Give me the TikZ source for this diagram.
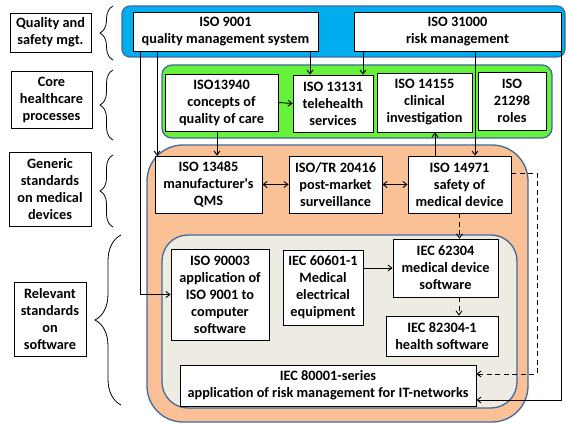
\documentclass[tikz,border=0pt]{standalone}
\usepackage{fontspec}
\setmainfont{Carlito}
\usepackage{tikz}
\usetikzlibrary{decorations.pathreplacing, arrows.meta}
\definecolor{skyblue}{HTML}{00AEEF}
\definecolor{limegreen}{HTML}{66F23A}
\definecolor{peach}{HTML}{F9C195}
\definecolor{parchment}{HTML}{EEECE2}
\definecolor{edgeblue}{HTML}{41699C}

\begin{document}
\begin{tikzpicture}[x=1pt, y=-1pt, every node/.style={font=\bfseries\fontsize{14.3}{17}\selectfont, align=center, inner sep=0pt}, stdbox/.style={draw, fill=white, line width=0.8pt}, labelbox/.style={draw, fill=white, line width=0.8pt}, group/.style={draw=edgeblue, line width=1.3pt}, conn/.style={line width=0.9pt, -{Straight Barb[length=4pt, width=6pt]}}, bothconn/.style={line width=0.9pt, {Straight Barb[length=4pt, width=6pt]}-{Straight Barb[length=4pt, width=6pt]}}, dashconn/.style={conn, dash pattern=on 5pt off 3.5pt}, curly/.style={decorate, line width=0.8pt}]
  \useasboundingbox (0,0) rectangle (566,425);

  % coloured groups
  \draw[group, fill=skyblue, rounded corners=8pt] (122,6) rectangle (565,57);
  \draw[group, fill=limegreen, rounded corners=10pt] (162,65) rectangle (552,138);
  \draw[group, fill=peach, rounded corners=36pt] (147,145) rectangle (528,422);
  \draw[group, fill=parchment, rounded corners=26pt] (162,235) rectangle (517,408);

  % row labels
  \node[labelbox, minimum width=81, minimum height=39] (lqual) at (50.5,32.5) {Quality and\\safety mgt.};
  \node[labelbox, minimum width=81, minimum height=57] (lcore) at (51.5,99.5) {Core\\healthcare\\processes};
  \node[labelbox, minimum width=82, minimum height=74] (lgen) at (50,189) {Generic\\standards\\on medical\\devices};
  \node[labelbox, minimum width=72, minimum height=74] (lrel) at (50,319) {Relevant\\standards\\on\\software};

  \draw[curly, decoration={brace, amplitude=13pt}] (113,60) -- (113,6);
  \draw[curly, decoration={brace, amplitude=13pt}] (113,140) -- (113,70);
  \draw[curly, decoration={brace, amplitude=13pt}] (113,227) -- (113,155);
  \draw[curly, decoration={brace, amplitude=26pt}] (121,405) -- (121,235);

  % standards
  \node[stdbox, minimum width=185, minimum height=39] (q9001) at (225.5,31.5) {ISO 9001\\quality management system};
  \node[stdbox, minimum width=207, minimum height=39] (q31000) at (457.5,31.5) {ISO 31000\\risk management};

  \node[stdbox, minimum width=113, minimum height=57] (i13940) at (221.5,102.5) {ISO13940\\concepts of\\quality of care};
  \node[stdbox, minimum width=80, minimum height=57] (i13131) at (333,103.5) {ISO 13131\\telehealth\\services};
  \node[stdbox, minimum width=95, minimum height=59] (i14155) at (424.5,102.5) {ISO 14155\\clinical\\investigation};
  \node[stdbox, minimum width=68, minimum height=58] (i21298) at (512,101) {ISO\\21298\\roles};

  \node[stdbox, minimum width=107, minimum height=57] (i13485) at (208.5,184.5) {ISO 13485\\manufacturer\textquotesingle s\\QMS};
  \node[stdbox, minimum width=93, minimum height=57] (i20416) at (335.5,184.5) {ISO/TR 20416\\post-market\\surveillance};
  \node[stdbox, minimum width=103, minimum height=57] (i14971) at (459.5,184.5) {ISO 14971\\safety of\\medical device};

  \node[stdbox, minimum width=98, minimum height=91] (i90003) at (220,294.5) {ISO 90003\\application of\\ISO 9001 to\\computer\\software};
  \node[stdbox, minimum width=80, minimum height=75] (i60601) at (323,287.5) {IEC 60601-1\\Medical\\electrical\\equipment};
  \node[stdbox, minimum width=105, minimum height=58] (i62304) at (445.5,268) {IEC 62304\\medical device\\software};
  \node[stdbox, minimum width=112, minimum height=40] (i82304) at (442,336) {IEC 82304-1\\health software};
  \node[stdbox, minimum width=296, minimum height=41] (i80001) at (328,385.5) {IEC 80001-series\\application of risk management for IT-networks};

  % connectors
  \coordinate (dashc) at (537,0);
  \coordinate (riskout) at ([yshift=11.5pt]i14971.east);
  \coordinate (riskin) at ([yshift=11.5pt]i80001.east);
  \coordinate (mgmtin) at ([yshift=-14.5pt]i80001.east);

  \draw[conn] ([xshift=-23pt]i13131.north |- q9001.south) -- ([xshift=-23pt]i13131.north);
  \draw[conn] ([xshift=30pt]i13131.north |- q31000.south) -- ([xshift=30pt]i13131.north);
  \draw[conn] (i13940.east) -- (i13131.west);
  \draw[conn] ([xshift=-51.5pt]i13485.north |- q9001.south) -- ([xshift=-51.5pt]i13485.north);
  \draw[conn] ([xshift=-85.5pt]q9001.south) |- (i90003.west);
  \draw[conn] ([xshift=-4.5pt]i13940.south) -- ([xshift=-4.5pt]i13940.south |- i13485.north);
  \draw[bothconn] (i13485.east) -- (i20416.west);
  \draw[bothconn] (i20416.east) -- (i14971.west);
  \draw[conn] ([xshift=-24.5pt]i14971.north) -- ([xshift=-24.5pt]i14971.north |- i14155.south);
  \draw[conn] ([xshift=15.5pt]i14971.north |- q31000.south) -- ([xshift=15.5pt]i14971.north);
  \draw[dashconn] (i14971.south) -- (i14971.south |- i62304.north);
  \draw[dashconn] ([xshift=13.5pt]i62304.south) -- ([xshift=13.5pt]i62304.south |- i82304.north);
  \draw[conn] (i60601.east |- i62304.west) -- (i62304.west);
  \draw[dashconn] (riskout) -| (dashc |- riskin) -- (riskin);
  \draw[conn] (q31000.south east) |- (mgmtin);
\end{tikzpicture}
\end{document}
